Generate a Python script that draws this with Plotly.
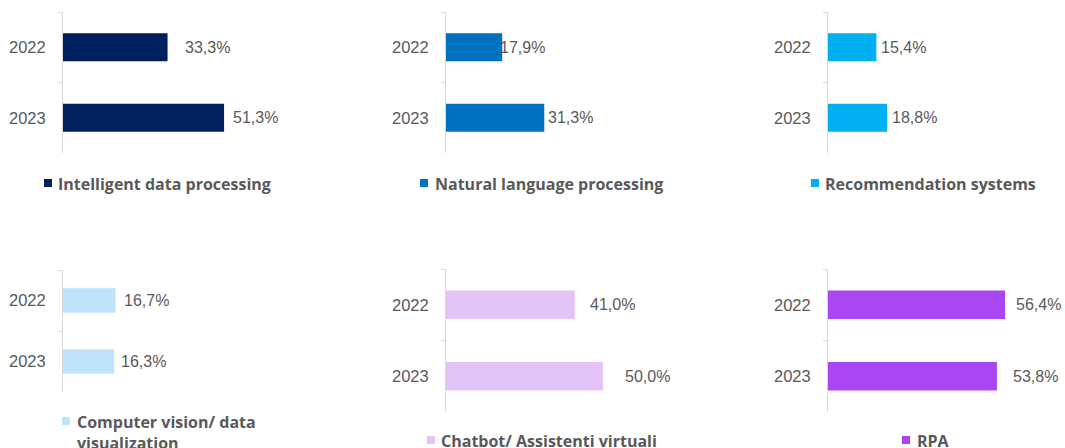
import plotly.graph_objects as go

W, H = 1065, 448

categories = ["Intelligent data processing", "Natural language processing", "Recommendation systems",
              "Computer vision/ data<br>visualization", "Chatbot/ Assistenti virtuali", "RPA"]
years = ["2022", "2023"]
values_2022 = [33.3, 17.9, 15.4, 16.7, 41.0, 56.4]
values_2023 = [51.3, 31.3, 18.8, 16.3, 50.0, 53.8]
colors = ["#002060", "#0070C0", "#00B0F0", "#BFE3FA", "#E4C3F6", "#A846F1"]

# layout (pixels)
axis_x = [63, 446, 828, 63, 446, 828]
axis_top = [12, 12, 12, 270, 269, 269]
axis_bot = [153, 153, 153, 392, 412, 412]
panel_w = 230
px_per_pct = 3.14
label_shift_2022 = [15, -4, 3, 7, 13, 9]
label_shift_2023 = [7, 2, 3, 5, 20, 14]
legend_sq_x = [44, 420, 811, 62, 427, 902]
legend_txt_x = [57, 434, 824, 76, 440, 916]
legend_y = [183, 183, 183, 421, 440, 440]

GRAY = "#595959"
fig = go.Figure()
layout = dict(width=W, height=H, margin=dict(l=0, r=0, t=0, b=0),
              paper_bgcolor="white", plot_bgcolor="white", showlegend=False,
              font=dict(family="Liberation Sans, Arial, sans-serif", size=16, color=GRAY))
annotations = []
shapes = []
for i in range(6):
    n = "" if i == 0 else str(i + 1)
    xa, ya = "x" + n, "y" + n
    vals = [values_2022[i], values_2023[i]]
    fig.add_trace(go.Bar(x=vals, y=years, orientation="h", marker=dict(color=colors[i], line=dict(width=0)),
                         width=0.4, xaxis=xa, yaxis=ya, hoverinfo="skip"))
    x0 = axis_x[i] / W
    layout["xaxis" + n] = dict(domain=[x0, x0 + panel_w / W], range=[0, panel_w / px_per_pct],
                               visible=False, anchor=ya)
    layout["yaxis" + n] = dict(domain=[1 - axis_bot[i] / H, 1 - axis_top[i] / H], anchor=xa,
                               type="category", categoryorder="array", categoryarray=years,
                               range=[len(years) - 0.5, -0.5], autorange=False,
                               showline=True, linecolor="#D9D9D9", linewidth=1,
                               ticks="outside", tickson="boundaries", ticklen=4, tickcolor="#D9D9D9",
                               showgrid=False, zeroline=False, ticklabelstandoff=13,
                               tickfont=dict(size=16.5, color=GRAY))
    for k, (v, s) in enumerate(zip(vals, [label_shift_2022[i], label_shift_2023[i]])):
        annotations.append(dict(x=v, y=k, xref=xa, yref=ya, text=f"{v:.1f}".replace(".", ",") + "%",
                                showarrow=False, xanchor="left", yanchor="middle", xshift=s,
                                font=dict(size=16, color=GRAY)))
    # legend entry
    sx, sy = legend_sq_x[i], legend_y[i]
    shapes.append(dict(type="rect", xref="paper", yref="paper", x0=sx / W, x1=(sx + 8) / W,
                       y0=1 - (sy + 4) / H, y1=1 - (sy - 4) / H, fillcolor=colors[i], line=dict(width=0)))
    annotations.append(dict(x=legend_txt_x[i] / W, y=1 - (sy - 11) / H, xref="paper", yref="paper",
                            text="<b>" + categories[i] + "</b>", showarrow=False, xanchor="left",
                            yanchor="top", align="left", borderpad=0,
                            font=dict(family="Open Sans, sans-serif", size=16, color=GRAY)))
layout["annotations"] = annotations
layout["shapes"] = shapes
fig.update_layout(**layout)
fig.write_html("out.html")
